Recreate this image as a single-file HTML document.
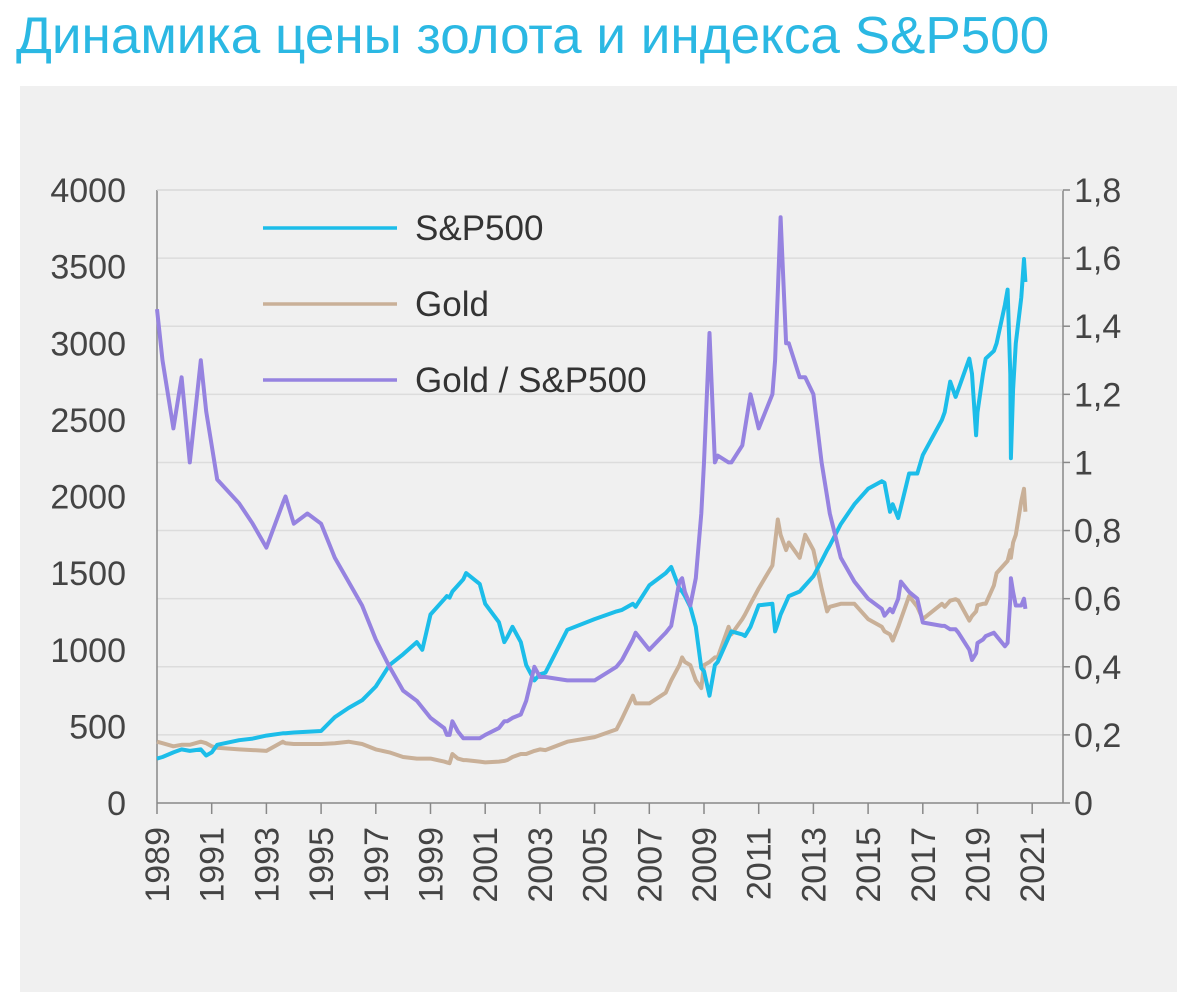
<!DOCTYPE html>
<html><head><meta charset="utf-8"><style>
body{margin:0;background:#fff;width:1200px;height:992px;overflow:hidden;font-family:"Liberation Sans",sans-serif}
</style></head><body>
<div style="position:absolute;left:16px;top:6px;font-size:52px;color:#2bb8e3;white-space:nowrap;font-family:'Liberation Sans','Noto Sans CJK SC',sans-serif;transform:scaleX(1.02);transform-origin:left">Динамика цены золота и индекса S&amp;P500</div>
<div style="position:absolute;left:20px;top:86px;width:1157px;height:906px;background:#f0f0f0"></div>
<svg id="c" width="1200" height="992" style="position:absolute;left:0;top:0"></svg>
<script>
const dates=[1989,1989.2,1989.6,1989.9,1990.2,1990.6,1990.8,1991,1991.2,1992,1992.5,1993,1993.6,1993.7,1994,1994.5,1995,1995.5,1996,1996.5,1997,1997.5,1998,1998.5,1998.7,1999,1999.5,1999.6,1999.7,1999.8,2000,2000.2,2000.3,2000.8,2001,2001.5,2001.7,2001.8,2002,2002.3,2002.5,2002.8,2003,2003.2,2004,2005,2005.8,2006,2006.4,2006.5,2007,2007.6,2007.8,2008.1,2008.2,2008.3,2008.5,2008.7,2008.9,2009,2009.2,2009.4,2009.5,2009.9,2010,2010.4,2010.5,2010.7,2011,2011.5,2011.6,2011.7,2011.8,2012,2012.1,2012.5,2012.7,2013,2013.3,2013.5,2013.6,2014,2014.5,2015,2015.5,2015.6,2015.8,2015.9,2016.1,2016.2,2016.5,2016.8,2017,2017.7,2017.8,2018,2018.2,2018.3,2018.7,2018.8,2018.95,2019,2019.2,2019.3,2019.6,2019.7,2020,2020.1,2020.2,2020.22,2020.3,2020.4,2020.6,2020.7,2020.75];
const sp500=[290,300,330,350,340,350,310,330,380,410,420,440,455,455,460,465,470,560,620,670,760,900,970,1050,1000,1230,1330,1350,1340,1380,1420,1460,1500,1430,1300,1180,1050,1080,1150,1050,900,800,840,850,1130,1200,1250,1260,1300,1280,1420,1500,1540,1400,1380,1350,1280,1150,880,860,700,900,920,1080,1120,1100,1090,1150,1290,1300,1120,1170,1230,1310,1350,1380,1420,1480,1580,1650,1680,1820,1950,2050,2100,2090,1900,1950,1860,1930,2150,2150,2270,2500,2550,2750,2650,2700,2900,2800,2400,2550,2800,2900,2950,3000,3250,3350,2800,2250,2700,3000,3300,3550,3400];
const gold=[400,390,370,380,380,400,390,370,360,350,345,340,400,390,385,385,385,390,400,385,350,330,300,290,290,290,270,265,260,320,290,280,280,270,265,270,275,280,300,320,320,340,350,345,400,430,480,550,700,650,650,720,800,900,950,920,900,800,750,900,920,950,950,1150,1100,1200,1230,1300,1400,1550,1700,1850,1750,1650,1700,1600,1750,1650,1400,1250,1280,1300,1300,1200,1150,1120,1100,1060,1150,1200,1350,1280,1200,1300,1280,1320,1330,1320,1190,1220,1250,1290,1300,1300,1420,1500,1560,1580,1650,1600,1700,1750,1970,2050,1900];
const ratio=[1.45,1.3,1.1,1.25,1.0,1.3,1.15,1.05,0.95,0.88,0.82,0.75,0.88,0.9,0.82,0.85,0.82,0.72,0.65,0.58,0.48,0.4,0.33,0.3,0.28,0.25,0.22,0.2,0.2,0.24,0.21,0.19,0.19,0.19,0.2,0.22,0.24,0.24,0.25,0.26,0.3,0.4,0.37,0.37,0.36,0.36,0.4,0.42,0.48,0.5,0.45,0.5,0.52,0.65,0.66,0.62,0.58,0.66,0.85,1.0,1.38,1.0,1.02,1.0,1.0,1.05,1.1,1.2,1.1,1.2,1.3,1.5,1.72,1.35,1.35,1.25,1.25,1.2,1.0,0.9,0.85,0.72,0.65,0.6,0.57,0.55,0.57,0.56,0.6,0.65,0.62,0.6,0.53,0.52,0.52,0.51,0.51,0.5,0.45,0.42,0.44,0.47,0.48,0.49,0.5,0.49,0.46,0.47,0.6,0.66,0.62,0.58,0.58,0.6,0.57];
const leftTicks=["0","500","1000","1500","2000","2500","3000","3500","4000"];
const rightTicks=["0","0,2","0,4","0,6","0,8","1","1,2","1,4","1,6","1,8"];
const yearTicks=["1989","1991","1993","1995","1997","1999","2001","2003","2005","2007","2009","2011","2013","2015","2017","2019","2021"];
const legendNames=["S&P500","Gold","Gold / S&P500"];

const X0=157,X1=1063,Y0=803,Y1=190;
const xs=y=>X0+(y-1989)*27.35;
const yl=v=>Y0-(v/4000)*(Y0-Y1);
const yr=v=>Y0-(v/1.8)*(Y0-Y1);
const svg=document.getElementById('c');
const NS='http://www.w3.org/2000/svg';
function mk(t,a,txt){const e=document.createElementNS(NS,t);for(const k in a)e.setAttribute(k,a[k]);if(txt!=null)e.textContent=txt;svg.appendChild(e);return e;}
rightTicks.forEach((t,i)=>{const v=i*0.2;const y=yr(v);
 if(i>0){const g=mk('line',{x1:X0,x2:X1,y1:y,y2:y,stroke:'#dcdcdc','stroke-width':1.5});
 
 }
 const tk=mk('line',{x1:X1,x2:X1+7,y1:y,y2:y,stroke:'#888','stroke-width':1.5});
 
 
 const l=mk('text',{x:1074,y:y+12,'font-size':34,fill:'#444'},t);
 
 
});
leftTicks.forEach((t,i)=>{const y=yl(i*500);
 const l=mk('text',{x:126,y:y+12,'font-size':34,fill:'#444','text-anchor':'end'},t);
 
 
});
yearTicks.forEach(t=>{const x=xs(+t);
 const tk=mk('line',{x1:x,x2:x,y1:Y0,y2:Y0+11,stroke:'#888','stroke-width':1.5});
 
 
 const l=mk('text',{x:0,y:0,'font-size':34,fill:'#444','text-anchor':'end',transform:`translate(${x+12},${Y0+24}) rotate(-90)`},t);
 
 
});
[[X0,Y1,X0,Y0],[X1,Y1,X1,Y0],[X0,Y0,X1,Y0],[X0,Y1,X1,Y1]].forEach((p,i)=>{
 const a=mk('line',{x1:p[0],y1:p[1],x2:p[2],y2:p[3],stroke:i==3?'#dcdcdc':'#888','stroke-width':1.5});
 
 
});
function series(vals,f,color,name){
 const d=vals.map((v,i)=>(i?'L':'M')+xs(dates[i]).toFixed(1)+','+f(v).toFixed(1)).join('');
 const p=mk('path',{d,fill:'none',stroke:color,'stroke-width':4,'stroke-linejoin':'round'});
 
 
}
series(gold,yl,'#c9b098','gold-line');
series(sp500,yl,'#1cbde9','sp500-line');
series(ratio,yr,'#9683e0','ratio-line');
const lc=['#1cbde9','#c9b098','#9683e0'];
legendNames.forEach((n,i)=>{const y=228+i*76;
 const l=mk('line',{x1:263,x2:397,y1:y,y2:y,stroke:lc[i],'stroke-width':3.5});
 
 
 const t=mk('text',{x:415,y:y+12,'font-size':35,fill:'#333'},n);
 
 
});
</script>
</body></html>
